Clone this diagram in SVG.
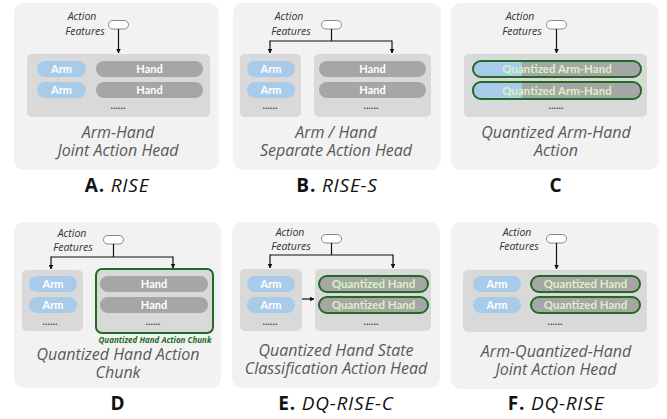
<svg xmlns="http://www.w3.org/2000/svg" width="667" height="419" viewBox="0 0 667 419">
<defs>
<marker id="ah" viewBox="0 0 10 10" refX="9" refY="5" markerWidth="4" markerHeight="4" orient="auto"><path d="M0,0 L10,5 L0,10 z" fill="#111"/></marker>
<style>
.panel{fill:#f2f2f2}
.inner{fill:#d9d9d9}
.arm{fill:#a9cbea}
.hand{fill:#a6a6a6}
.q{stroke:#226b22;stroke-width:2}
.pt{font-family:Lato,"Liberation Sans",sans-serif;font-weight:bold;font-size:11px;fill:#fff;text-anchor:middle}
.qt{font-family:Lato,"Liberation Sans",sans-serif;font-weight:bold;font-size:11.5px;fill:#d8f3c3;text-anchor:middle}
.af{font-family:"Open Sans","Liberation Sans",sans-serif;font-style:italic;font-size:10.5px;fill:#333;text-anchor:middle}
.feat{fill:#fff;stroke:#888;stroke-width:1}
.ti{font-family:"Open Sans","Liberation Sans",sans-serif;font-style:italic;font-size:16px;fill:#595959;text-anchor:middle}
.lb{font-family:"Open Sans","Liberation Sans",sans-serif;font-size:19px;letter-spacing:0.8px;fill:#111;text-anchor:middle}
.dots{font-family:"Liberation Sans",sans-serif;font-size:9px;font-weight:bold;fill:#444;text-anchor:middle}
.ln{fill:none;stroke:#111;stroke-width:1.2}
</style>
</defs>

<!-- Panel A -->
<g id="panelA">
<rect class="panel" x="14" y="3" width="205" height="167" rx="10"/>
<text class="af" x="82" y="20">Action<tspan x="85" dy="15">Features</tspan></text>
<rect class="feat" x="108.5" y="20.5" width="20" height="8.5" rx="4.25"/>
<rect class="inner" x="27" y="54" width="183" height="63" rx="5"/>
<rect class="arm" x="37" y="61" width="49" height="16" rx="8"/>
<rect class="arm" x="37" y="82" width="49" height="16" rx="8"/>
<rect class="hand" x="96" y="61" width="107" height="16" rx="8"/>
<rect class="hand" x="96" y="82" width="107" height="16" rx="8"/>
<text class="pt" x="61.5" y="73">Arm</text>
<text class="pt" x="61.5" y="94">Arm</text>
<text class="pt" x="149.5" y="73">Hand</text>
<text class="pt" x="149.5" y="94">Hand</text>
<text class="dots" x="118" y="109">......</text>
<text class="ti" x="118" y="138">Arm-Hand<tspan x="118" dy="18">Joint Action Head</tspan></text>
<text class="lb" x="117" y="192"><tspan font-weight="bold">A.</tspan> <tspan font-style="italic">RISE</tspan></text>
</g>

<!-- Panel B -->
<g id="panelB">
<rect class="panel" x="233" y="3" width="208" height="167" rx="10"/>
<text class="af" x="289" y="20">Action<tspan x="291" dy="15">Features</tspan></text>
<rect class="feat" x="321.5" y="20.5" width="20" height="8.5" rx="4.25"/>
<rect class="inner" x="240" y="54" width="61" height="63" rx="5"/>
<rect class="inner" x="314" y="54" width="117" height="63" rx="5"/>
<rect class="arm" x="247" y="61" width="48" height="16" rx="8"/>
<rect class="arm" x="247" y="82" width="48" height="16" rx="8"/>
<rect class="hand" x="319" y="61" width="107" height="16" rx="8"/>
<rect class="hand" x="319" y="82" width="107" height="16" rx="8"/>
<text class="pt" x="271" y="73">Arm</text>
<text class="pt" x="271" y="94">Arm</text>
<text class="pt" x="372.5" y="73">Hand</text>
<text class="pt" x="372.5" y="94">Hand</text>
<text class="dots" x="270" y="109">......</text>
<text class="dots" x="371" y="109">......</text>
<text class="ti" x="336" y="138">Arm / Hand<tspan x="336" dy="18">Separate Action Head</tspan></text>
<text class="lb" x="337" y="192"><tspan font-weight="bold">B.</tspan> <tspan font-style="italic">RISE-S</tspan></text>
</g>

<!-- Panel C -->
<g id="panelC">
<rect class="panel" x="451" y="3" width="208" height="167" rx="10"/>
<text class="af" x="520" y="20">Action<tspan x="522" dy="15">Features</tspan></text>
<rect class="feat" x="546.5" y="20.5" width="20" height="8.5" rx="4.25"/>
<rect class="inner" x="464" y="54" width="183" height="63" rx="5"/>
<clipPath id="c1"><rect x="473" y="61" width="168" height="16" rx="8"/></clipPath>
<clipPath id="c2"><rect x="473" y="82" width="168" height="17" rx="8"/></clipPath>
<g clip-path="url(#c1)"><rect class="hand" x="473" y="61" width="168" height="16"/><rect class="arm" x="473" y="61" width="49" height="16"/></g>
<g clip-path="url(#c2)"><rect class="hand" x="473" y="82" width="168" height="17"/><rect class="arm" x="473" y="82" width="49" height="17"/></g>
<rect class="q" fill="none" x="473" y="61" width="168" height="16" rx="8"/>
<rect class="q" fill="none" x="473" y="82" width="168" height="17" rx="8"/>
<text class="qt" x="557" y="73">Quantized Arm-Hand</text>
<text class="qt" x="557" y="94.5">Quantized Arm-Hand</text>
<text class="dots" x="556" y="109">......</text>
<text class="ti" x="556" y="138">Quantized Arm-Hand<tspan x="556" dy="18">Action</tspan></text>
<text class="lb" x="556" y="192" font-weight="bold">C</text>
</g>

<!-- Panel D -->
<g id="panelD">
<rect class="panel" x="14" y="222" width="207" height="166" rx="10"/>
<text class="af" x="72" y="237">Action<tspan x="73" dy="14">Features</tspan></text>
<rect class="feat" x="103.5" y="235.5" width="20" height="8.5" rx="4.25"/>
<rect class="inner" x="22" y="270" width="61" height="61" rx="5"/>
<rect class="inner" x="96" y="269" width="117" height="64" rx="6" stroke="#226b22" stroke-width="2"/>
<rect class="arm" x="29" y="276" width="48" height="16" rx="8"/>
<rect class="arm" x="29" y="297" width="48" height="16" rx="8"/>
<rect class="hand" x="100" y="276" width="108" height="16" rx="8"/>
<rect class="hand" x="100" y="297" width="108" height="16" rx="8"/>
<text class="pt" x="53" y="288">Arm</text>
<text class="pt" x="53" y="309">Arm</text>
<text class="pt" x="154" y="288">Hand</text>
<text class="pt" x="154" y="309">Hand</text>
<text class="dots" x="50" y="325">......</text>
<text class="dots" x="153" y="325">......</text>
<text x="155" y="343" font-family="'Open Sans','Liberation Sans',sans-serif" font-weight="bold" font-style="italic" font-size="8" fill="#226b22" text-anchor="middle">Quantized Hand Action Chunk</text>
<text class="ti" x="118" y="360">Quantized Hand Action<tspan x="118" dy="18">Chunk</tspan></text>
<text class="lb" x="118" y="410" font-weight="bold">D</text>
</g>

<!-- Panel E -->
<g id="panelE">
<rect class="panel" x="232" y="222" width="208" height="166" rx="10"/>
<text class="af" x="290" y="236">Action<tspan x="291" dy="14">Features</tspan></text>
<rect class="feat" x="321.5" y="234.5" width="20" height="8.5" rx="4.25"/>
<rect class="inner" x="240" y="269" width="62" height="62" rx="5"/>
<rect class="inner" x="315" y="269" width="116" height="62" rx="5"/>
<rect class="arm" x="247" y="276" width="48" height="16" rx="8"/>
<rect class="arm" x="247" y="297" width="48" height="16" rx="8"/>
<rect class="hand q" x="319" y="276" width="109" height="16" rx="8"/>
<rect class="hand q" x="319" y="297" width="109" height="16" rx="8"/>
<text class="pt" x="271" y="288">Arm</text>
<text class="pt" x="271" y="309">Arm</text>
<text class="qt" x="373.5" y="288">Quantized Hand</text>
<text class="qt" x="373.5" y="309">Quantized Hand</text>
<text class="dots" x="270" y="325">......</text>
<text class="dots" x="371" y="325">......</text>
<text class="ti" x="336" y="356">Quantized Hand State<tspan x="336" dy="18">Classification Action Head</tspan></text>
<text class="lb" x="336" y="410"><tspan font-weight="bold">E.</tspan> <tspan font-style="italic">DQ-RISE-C</tspan></text>
</g>

<!-- Panel F -->
<g id="panelF">
<rect class="panel" x="451" y="222" width="208" height="167" rx="10"/>
<text class="af" x="517" y="236">Action<tspan x="519" dy="14">Features</tspan></text>
<rect class="feat" x="546.5" y="234.5" width="20" height="8.5" rx="4.25"/>
<rect class="inner" x="463" y="270" width="184" height="62" rx="5"/>
<rect class="arm" x="473" y="276" width="48" height="16" rx="8"/>
<rect class="arm" x="473" y="297" width="48" height="16" rx="8"/>
<rect class="hand q" x="531" y="276" width="109" height="16" rx="8"/>
<rect class="hand q" x="531" y="297" width="109" height="16" rx="8"/>
<text class="pt" x="497" y="288">Arm</text>
<text class="pt" x="497" y="309">Arm</text>
<text class="qt" x="585.5" y="288">Quantized Hand</text>
<text class="qt" x="585.5" y="309">Quantized Hand</text>
<text class="dots" x="555" y="325">......</text>
<text class="ti" x="556" y="357">Arm-Quantized-Hand<tspan x="556" dy="18">Joint Action Head</tspan></text>
<text class="lb" x="556" y="410"><tspan font-weight="bold">F.</tspan> <tspan font-style="italic">DQ-RISE</tspan></text>
</g>

<!-- Connectors -->
<g id="connectors">
<path class="ln" d="M118.5,29 V53" marker-end="url(#ah)"/>
<path class="ln" d="M331.5,29 V41 M270,41 H392"/>
<path class="ln" d="M270,40.4 V53" marker-end="url(#ah)"/>
<path class="ln" d="M392,40.4 V53" marker-end="url(#ah)"/>
<path class="ln" d="M556.5,29 V53" marker-end="url(#ah)"/>
<path class="ln" d="M113.5,244 V257 M51,257 H173"/>
<path class="ln" d="M51,256.4 V269" marker-end="url(#ah)"/>
<path class="ln" d="M173,256.4 V268" marker-end="url(#ah)"/>
<path class="ln" d="M331.5,243 V255 M270,255 H393"/>
<path class="ln" d="M270,254.4 V268" marker-end="url(#ah)"/>
<path class="ln" d="M393,254.4 V268" marker-end="url(#ah)"/>
<path class="ln" d="M302,299 H314" marker-end="url(#ah)"/>
<path class="ln" d="M556.5,243 V269" marker-end="url(#ah)"/>
</g>
</svg>
